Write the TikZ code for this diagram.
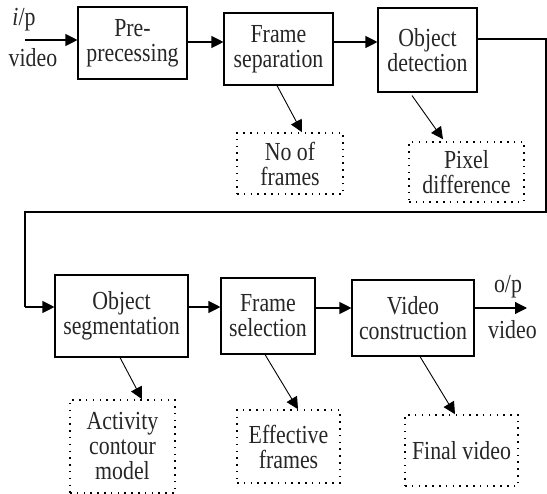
\documentclass[tikz,border=0pt]{standalone}
\usepackage{fontspec}
\setmainfont{Liberation Serif}[FakeStretch=0.84]
\usetikzlibrary{arrows.meta,calc}
\begin{document}
\begin{tikzpicture}[x=1pt,y=1pt,
  every node/.style={font=\fontsize{26}{25}\selectfont, text=black!85},
  blk/.style={draw, line width=1.1pt, align=center, inner sep=0pt},
  note/.style={draw, line width=1.6pt, dash pattern=on 1.5pt off 5.3pt, align=center, inner sep=0pt},
  conn/.style={line width=1.1pt, -{Triangle[length=12pt,width=12pt]}},
  lbl/.style={inner sep=0pt}
]
\useasboundingbox (0,0) rectangle (547,-494);
% top row
\node[blk, minimum width=109, minimum height=72] (pre) at (132.5,-43) {Pre-\\precessing};
\node[blk, minimum width=109, minimum height=72] (fsep) at (278.5,-49) {Frame\\separation};
\node[blk, minimum width=99, minimum height=84] (odet) at (427.5,-50) {Object\\detection};
\node[note, minimum width=106, minimum height=61] (nof) at (290,-163.5) {No of\\frames};
\node[note, minimum width=115, minimum height=60] (pix) at (466.5,-172) {Pixel\\difference};
% bottom row
\node[blk, minimum width=133, minimum height=82] (oseg) at (121.5,-316) {Object\\segmentation};
\node[blk, minimum width=94, minimum height=76] (fsel) at (268,-316) {Frame\\selection};
\node[blk, minimum width=122, minimum height=76] (vcon) at (413,-318) {Video\\construction};
\node[note, minimum width=105, minimum height=93] (act) at (122.5,-446.5) {Activity\\contour\\model};
\node[note, minimum width=103, minimum height=73] (eff) at (288.5,-446.5) {Effective\\frames};
\node[note, minimum width=113, minimum height=71] (fin) at (461.5,-450.5) {Final video};
% io labels
\node[lbl] (ip) at (24,-20) {\textit{i}/p};
\node[lbl] (ivid) at (33,-58) {video};
\node[lbl] (op) at (508,-287) {o/p};
\node[lbl] (ovid) at (512.5,-330) {video};
\coordinate (in) at (25,-40);
\coordinate (out) at (527,-308);
\coordinate (r1) at (546,-39);
\coordinate (r2) at (546,-212);
\coordinate (l1) at (25,-212);
\coordinate (l2) at (25,-307);
% connectors
\draw[conn] (in) -- (in -| pre.west);
\draw[conn] (pre.east |- 0,-42) -- (fsep.west |- 0,-42);
\draw[conn] (fsep.east |- 0,-42) -- (odet.west |- 0,-42);
\draw[line width=1.1pt] (odet.east |- r1) -- (r1) -- (r2) -- (l1) -- (l2);
\draw[conn] (l2) -- (l2 -| oseg.west);
\draw[conn] (oseg.east |- 0,-307) -- (fsel.west |- 0,-307);
\draw[conn] (fsel.east |- 0,-308) -- (vcon.west |- 0,-308);
\draw[conn] (vcon.east |- out) -- (out);
\draw[conn, line width=0.9pt] ($(fsep.south)+(-1.5,0)$) -- ($(nof.north)+(12,0)$);
\draw[conn, line width=0.9pt] ($(odet.south)+(-15.5,-3)$) -- ($(pix.north)+(-23.5,2)$);
\draw[conn, line width=0.9pt] ($(oseg.south)+(-1.5,0)$) -- ($(act.north)+(19.5,0)$);
\draw[conn, line width=0.9pt] ($(fsel.south)+(-3,0)$) -- ($(eff.north)+(9.5,0)$);
\draw[conn, line width=0.9pt] ($(vcon.south)+(7,0)$) -- ($(fin.north)+(-6.5,0)$);
\end{tikzpicture}
\end{document}
